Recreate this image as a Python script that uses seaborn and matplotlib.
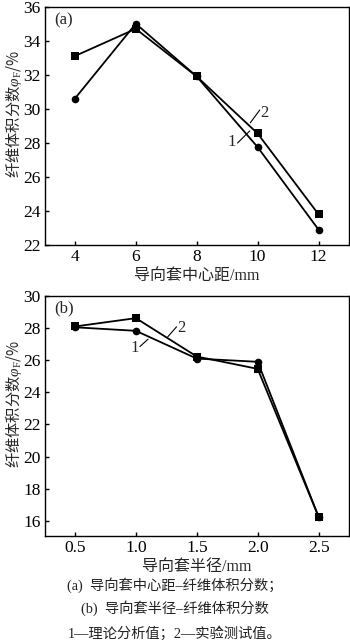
import matplotlib
matplotlib.use("Agg")
import matplotlib.pyplot as plt
import seaborn as sns
import pandas as pd

# Data
dist_x = [4, 6, 8, 10, 12]
dist_theory = [30.6, 35.0, 31.9, 27.75, 22.9]
dist_exp = [33.1, 34.7, 31.9, 28.55, 23.8]

rad_x = [0.5, 1.0, 1.5, 2.0, 2.5]
rad_theory = [28.05, 27.83, 26.1, 25.9, 16.25]
rad_exp = [28.1, 28.62, 26.23, 25.46, 16.25]

xticks_a = [4, 6, 8, 10, 12]
yticks_a = [22, 24, 26, 28, 30, 32, 34, 36]
xticks_b = [0.5, 1.0, 1.5, 2.0, 2.5]
xticklabels_b = ["0.5", "1.0", "1.5", "2.0", "2.5"]
yticks_b = [16, 18, 20, 22, 24, 26, 28, 30]

xlabel_a = "导向套中心距/mm"
xlabel_b = "导向套半径/mm"
ylabel = "纤维体积分数$\\varphi_\\mathsf{F}$/%"
caption = ["(a)  导向套中心距–纤维体积分数；", "(b)  导向套半径–纤维体积分数", "1—理论分析值；2—实验测试值。"]

sns.set_theme(style="ticks")
plt.rcParams["font.family"] = ["Liberation Serif", "Noto Sans CJK SC", "DejaVu Sans"]
plt.rcParams["mathtext.fontset"] = "custom"
plt.rcParams["mathtext.rm"] = "Noto Sans CJK SC"
plt.rcParams["mathtext.it"] = "Liberation Serif:italic"
plt.rcParams["mathtext.sf"] = "Liberation Serif"
plt.rcParams["mathtext.bf"] = "Liberation Serif:bold"
plt.rcParams["mathtext.fallback"] = "stix"
plt.rcParams["axes.unicode_minus"] = False

fig = plt.figure(figsize=(3.5, 6.44), dpi=100)
ax1 = fig.add_axes([0.1286, 0.6196, 0.8686, 0.3700])
ax2 = fig.add_axes([0.1286, 0.1677, 0.8686, 0.3727])

df_a = pd.DataFrame({"x": dist_x * 2, "y": dist_theory + dist_exp,
                     "s": ["1"] * 5 + ["2"] * 5})
df_b = pd.DataFrame({"x": rad_x * 2, "y": rad_theory + rad_exp,
                     "s": ["1"] * 5 + ["2"] * 5})

for ax, df in [(ax1, df_a), (ax2, df_b)]:
    sns.lineplot(data=df, x="x", y="y", style="s", markers={"1": "o", "2": "s"},
                 dashes=False, color="black", linewidth=1.3, markersize=5.5,
                 markeredgewidth=0, ax=ax, legend=False, sort=False)
    for sp in ax.spines.values():
        sp.set_linewidth(1.0)
        sp.set_color("black")
    ax.tick_params(direction="in", length=3, width=1, labelsize=12.5, colors="black", pad=3)

ax1.set_xlim(3.02, 13.0)
ax1.set_ylim(22, 36)
ax1.set_xticks(xticks_a)
ax1.set_yticks(yticks_a)
ax1.set_xlabel(xlabel_a, fontsize=11.5, labelpad=2)
ax1.set_ylabel(ylabel, fontsize=11, labelpad=2, family="Noto Sans CJK SC")
ax1.yaxis.set_label_coords(-0.07, 0.55)

ax2.set_xlim(0.254, 2.75)
ax2.set_ylim(15.05, 30)
ax2.set_xticks(xticks_b)
ax2.set_xticklabels(xticklabels_b)
ax2.set_yticks(yticks_b)
ax2.set_xlabel(xlabel_b, fontsize=11.5, labelpad=2)
ax2.set_ylabel(ylabel, fontsize=11, labelpad=2, family="Noto Sans CJK SC")
ax2.yaxis.set_label_coords(-0.07, 0.55)

ax1.text(0.03, 0.975, "(a)", transform=ax1.transAxes, ha="left", va="top", fontsize=12)
ax2.text(0.03, 0.98, "(b)", transform=ax2.transAxes, ha="left", va="top", fontsize=12)

# annotations (a)
ax1.plot([9.76, 10.07], [29.18, 29.93], color="black", lw=0.8)
ax1.text(10.1, 29.75, "2", fontsize=12, ha="left", va="center")
ax1.plot([9.34, 9.74], [27.99, 28.7], color="black", lw=0.8)
ax1.text(9.3, 28.07, "1", fontsize=12, ha="right", va="center")
# annotations (b)
ax2.plot([1.262, 1.334], [27.46, 28.08], color="black", lw=0.8)
ax2.text(1.34, 28.0, "2", fontsize=12, ha="left", va="center")
ax2.plot([1.033, 1.10], [26.85, 27.31], color="black", lw=0.8)
ax2.text(1.025, 26.79, "1", fontsize=12, ha="right", va="center")

for y, t in zip([585, 608, 633], caption):
    fig.text(0.5, 1 - y / 644, t, ha="center", va="center", fontsize=10.3, color="#222222")

fig.savefig("out.png", dpi=100)
